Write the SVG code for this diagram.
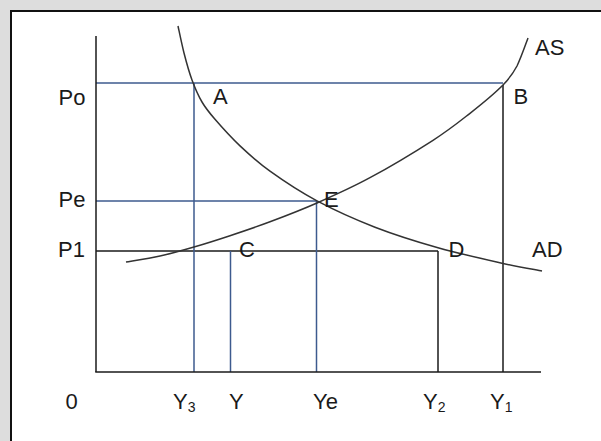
<svg xmlns="http://www.w3.org/2000/svg" width="601" height="441" viewBox="0 0 601 441">
<style>
.t{font-family:"Liberation Sans",Arial,sans-serif;font-size:22px;fill:#1a1a1a}
.s{font-size:14px}
.k{stroke:#1a1a1a;stroke-width:1.5;fill:none}
.b{stroke:#3d5a8e;stroke-width:1.5;fill:none}
.c{stroke:#333;stroke-width:1.5;fill:none}
</style>
<rect x="0" y="0" width="601" height="441" fill="#dddddd"/>
<rect id="frame" x="11" y="11" width="600" height="440" fill="#ffffff" stroke="#111" stroke-width="2"/>
<g id="connectors">
<line class="b" x1="96" y1="83" x2="503" y2="83"/>
<line class="b" x1="96" y1="201" x2="317" y2="201"/>
<line class="k" x1="96" y1="251" x2="438" y2="251"/>
<line class="b" x1="194" y1="83" x2="194" y2="372"/>
<line class="b" x1="230.5" y1="251" x2="230.5" y2="372"/>
<line class="b" x1="316.5" y1="201" x2="316.5" y2="372"/>
<line class="k" x1="438" y1="251" x2="438" y2="372"/>
<line class="k" x1="503" y1="85" x2="503" y2="372"/>
<line class="k" x1="96" y1="36" x2="96" y2="372"/>
<line class="k" x1="95.25" y1="372" x2="541" y2="372"/>
<path id="AD-curve" class="c" d="M178,26 C179,30.5 181.7,44 184,53 C186.3,62 189,71.8 192,80 C195,88.2 198.2,95.5 202,102 C205.8,108.55 208.7,112 215,119.3 C221.3,126.6 230.8,137.2 240,145.9 C249.2,154.55 257.2,162 270,171.2 C282.8,180.4 299.5,191.6 317,200.9 C334.5,210.2 354.8,219.4 375,227.2 C395.2,235 416.7,241.7 438,247.7 C459.3,253.7 485.7,259.5 503,263.4 C520.3,267.3 535.5,269.7 542,271"/>
<path id="AS-curve" class="c" d="M126,262 C131.7,261 148.7,258.5 160,256 C171.3,253.5 182.3,250.4 194,247 C205.7,243.6 217.3,239.9 230,235.7 C242.7,231.5 255.5,227.25 270,221.8 C284.5,216.35 300.3,210.35 317,203 C333.7,195.65 350.7,188.15 370,177.7 C389.3,167.25 416.3,151 433,140.3 C449.7,129.6 458.3,122.5 470,113.3 C481.7,104.1 495.2,92.9 503,85 C510.8,77.1 512.8,73.8 517,66 C521.2,57.2 526.2,42.7 528,38"/>
</g>
<g id="labels">
<text class="t" x="58.5" y="105">Po</text>
<text class="t" x="58.5" y="207">Pe</text>
<text class="t" x="58" y="257">P1</text>
<text class="t" x="65.5" y="409">0</text>
<text class="t" x="173" y="409">Y<tspan class="s" dy="3">3</tspan></text>
<text class="t" x="229" y="409">Y</text>
<text class="t" x="313" y="409">Ye</text>
<text class="t" x="423" y="409">Y<tspan class="s" dy="3">2</tspan></text>
<text class="t" x="490" y="409">Y<tspan class="s" dy="3">1</tspan></text>
<text class="t" x="213" y="104">A</text>
<text class="t" x="513.5" y="104">B</text>
<text class="t" x="535" y="55">AS</text>
<text class="t" x="324" y="207">E</text>
<text class="t" x="239" y="257">C</text>
<text class="t" x="448.5" y="257">D</text>
<text class="t" x="532" y="257">AD</text>
</g>
</svg>
